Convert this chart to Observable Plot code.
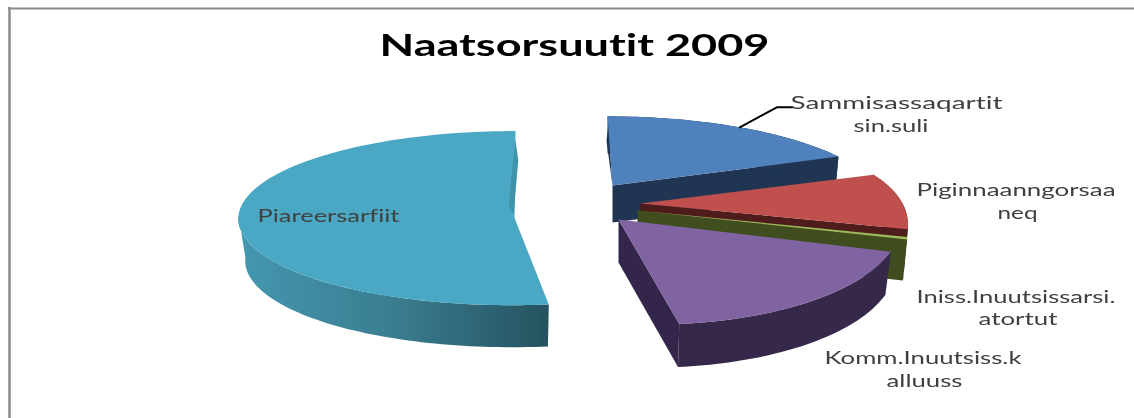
<!DOCTYPE html>
<html><head><meta charset="utf-8">
<script src="https://cdn.jsdelivr.net/npm/d3@7"></script>
<script src="https://cdn.jsdelivr.net/npm/@observablehq/plot@0.6"></script>
<style>html,body{margin:0;padding:0;background:#fff;overflow:hidden}svg{display:block;filter:blur(.35px)}svg text{font-variant-ligatures:none}</style>
</head><body><div id="chart"></div>
<script>
// Data
const categories = ["Sammisassaqartit sin.suli","Piginnaanngorsaaneq","Iniss.Inuutsissarsi.atortut","Komm.Inuutsiss.kalluuss","Piareersarfiit"];
const shares = [18.9,10.3,0.4,18.3,52.1];
const titleText = "Naatsorsuutit 2009";
const labelLines = [["Sammisassaqartit","sin.suli"],["Piginnaanngorsaa","neq"],["Iniss.Inuutsissarsi.","atortut"],["Komm.Inuutsiss.k","alluuss"],["Piareersarfiit"]];

// Layout and style (pixel-unit scales, 3-D view per exploded slice)
const W = 1134, H = 418;
const view = [
  {cx:612,cy:185,rx:264,ry:83,k:.2,s:5,depth:37,q:.985,top:"#4f81bd",wall:"#1f3552"},
  {cx:640,cy:203,rx:262,ry:88,k:.4,s:-58,depth:42,q:.985,top:"#c0504d",wall:"#4f1c1c"},
  {cx:637,cy:210,rx:265,ry:96,k:.2,s:0,depth:41,q:.985,top:"#9bbb59",wall:"#3f4d1f"},
  {cx:618,cy:219,rx:284,ry:116,k:-.1,s:27,depth:43,q:.98,top:"#8064a2",wall:"#35284a",cut:"#33264a"},
  {cx:513,cy:215,rx:275,ry:87,k:.03,s:-2,depth:42,q:.975,top:"#4aa8c4",wall:"url(#tealWall)",cut:"#3f93ab"}
];
const labelLayout = [
  [[790,108,212],[853,131,75]],
  [[916,195,199],[997,218,40]],
  [[916,302,199],[978,324,79]],
  [[824,363,197],[886,386,76]],
  [[257,221,142]]
];

const rad = Math.PI/180;
function project(v, deg, r=1){
  const X = r*Math.sin(deg*rad), Y = -r*Math.cos(deg*rad), p = 1/(1 - v.k*Y);
  return [v.cx + v.rx*X*p + v.s*Y, v.cy + v.ry*Y*p];
}
const lower = (v, pt) => [v.cx + (pt[0]-v.cx)*v.q, pt[1] + v.depth];
function arc(v, a0, a1){
  const n = Math.max(2, Math.ceil(Math.abs(a1-a0)/1.5)), pts = [];
  for (let i=0;i<=n;i++) pts.push(project(v, a0+(a1-a0)*i/n));
  return pts;
}
let acc = 0;
const spans = shares.map(v => { const a0 = acc; acc += v*3.6; return [a0, acc]; });

function polygon(points, fill){
  return Plot.line(points, {x:d=>d[0], y:d=>d[1], fill, stroke:"none"});
}
function faces(i){
  const v = view[i], [a0,a1] = spans[i], out = [];
  const apex = [v.cx,v.cy], rim1 = project(v,a1);
  // side wall along the closing cut
  out.push(polygon([apex,rim1,lower(v,rim1),lower(v,apex)],v.cut || v.wall));
  // outer wall
  const wallEnd = i===4 ? 270 : a1;
  const outer = arc(v,a0,wallEnd);
  out.push(polygon([...outer,...outer.slice().reverse().map(p=>lower(v,p))],v.wall));
  // dark sliver on the opening cut of the blue slice
  if (i===0){
    const P=f=>project(v,a0,f);
    out.push(polygon([P(.85),[P(.6)[0]-3,P(.6)[1]],apex],v.wall));
  }
  // top face
  out.push(polygon([apex,...arc(v,a0,a1)],v.top));
  if (i===4){
    const P=f=>project(v,0,f);
    out.push(polygon([P(.9),[P(.65)[0]+3.5,P(.65)[1]],P(0),[P(.12)[0]-5,P(.12)[1]]],v.cut));
  }
  return out;
}

const textRows = labelLines.flatMap((lines,i)=>lines.map((t,j)=>({t,x:labelLayout[i][j][0],y:labelLayout[i][j][1],w:labelLayout[i][j][2]})));
function stretched(widthOf){
  return (index,scales,values,dims,ctx,next)=>{
    const g = next(index,scales,values,dims,ctx);
    d3.select(g).selectAll("text").each(function(_,n){
      this.setAttribute("textLength", widthOf(index[n]));
      this.setAttribute("lengthAdjust","spacingAndGlyphs");
    });
    return g;
  };
}
// leader line from the blue slice's outer arc
const blueMid = project(view[0], spans[0][1]*.52);
const leader = [blueMid,[blueMid[0]+37,blueMid[1]-20],[blueMid[0]+53,blueMid[1]-20]];

const defs = () => {
  const d = d3.create("svg:defs");
  const g = d.append("linearGradient").attr("id","tealWall");
  g.append("stop").attr("offset","0%").attr("stop-color","#4497b0");
  g.append("stop").attr("offset","50%").attr("stop-color","#3a7d90");
  g.append("stop").attr("offset","100%").attr("stop-color","#24525f");
  return d.node();
};

const plot = Plot.plot({
  width:W, height:H, margin:0,
  x:{domain:[0,W],range:[0,W],axis:null},
  y:{domain:[0,H],range:[0,H],axis:null},
  marks:[
    defs,
    Plot.ruleY([8],{x1:8,x2:W,stroke:"#8a8a8a",strokeWidth:2}),
    Plot.ruleX([9],{y1:7,y2:H,stroke:"#8a8a8a",strokeWidth:2.5}),
    ...faces(4),...faces(0),...faces(1),...faces(2),...faces(3),
    Plot.line(leader,{x:d=>d[0],y:d=>d[1],stroke:"#000",strokeWidth:2}),
    Plot.text([titleText],{x:()=>379,y:()=>55,text:d=>d,textAnchor:"start",lineAnchor:"bottom",fontFamily:"Lato",fontWeight:"bold",fontSize:30,fill:"#000",
      render:stretched(()=>390)}),
    Plot.text(textRows,{x:"x",y:"y",text:"t",textAnchor:"start",lineAnchor:"bottom",fontFamily:"Lato",fontSize:17,fill:"#404040",
      render:stretched(i=>textRows[i].w)})
  ]
});
document.getElementById("chart").append(plot);
</script></body></html>
